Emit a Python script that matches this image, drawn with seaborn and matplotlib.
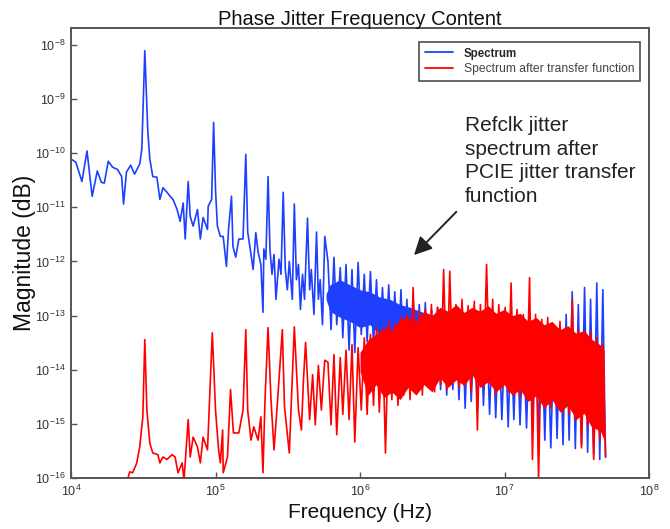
import numpy as np
import pandas as pd
import matplotlib
matplotlib.use("Agg")
import matplotlib.pyplot as plt
from matplotlib.ticker import LogLocator, NullLocator
import seaborn as sns

# ---------------- data ----------------
blue_low_freq = [1.0e4, 1.08e4, 1.19e4, 1.29e4, 1.40e4, 1.52e4, 1.62e4, 1.70e4, 1.81e4, 1.94e4,
                 2.10e4, 2.24e4, 2.31e4, 2.42e4, 2.59e4, 2.75e4, 2.99e4, 3.09e4, 3.24e4, 3.40e4,
                 3.51e4, 3.68e4, 3.93e4, 4.12e4, 4.33e4, 4.61e4, 4.85e4, 5.08e4, 5.42e4, 5.69e4,
                 5.97e4, 6.17e4, 6.47e4, 6.68e4, 7.0e4, 7.5e4, 7.85e4, 8.2e4, 8.8e4, 8.9e4,
                 9.4e4, 9.7e4, 1.0e5, 1.03e5, 1.08e5, 1.13e5, 1.19e5, 1.23e5, 1.29e5, 1.32e5,
                 1.38e5, 1.45e5, 1.55e5, 1.62e5, 1.67e5, 1.76e5, 1.82e5, 1.90e5, 1.97e5, 2.06e5,
                 2.13e5, 2.16e5, 2.23e5, 2.31e5, 2.38e5, 2.46e5, 2.54e5, 2.62e5, 2.75e5, 2.84e5,
                 2.94e5, 3.04e5, 3.14e5, 3.24e5, 3.40e5, 3.51e5, 3.63e5, 3.75e5, 3.87e5, 4.0e5,
                 4.13e5, 4.33e5, 4.48e5, 4.6e5, 4.8e5, 5.0e5, 5.15e5, 5.3e5, 5.5e5, 5.7e5]
blue_low_mag = [7.8e-11, 6.8e-11, 3.0e-11, 1.1e-10, 1.6e-11, 4.7e-11, 2.9e-11, 2.8e-11, 7.1e-11, 5.5e-11,
                5.0e-11, 3.7e-11, 1.15e-11, 4.5e-11, 6.0e-11, 4.1e-11, 6.3e-11, 1.2e-10, 7.8e-9, 2.5e-10,
                7.8e-11, 3.7e-11, 3.6e-11, 1.4e-11, 2.3e-11, 1.9e-11, 1.6e-11, 1.4e-11, 9.1e-12, 5.5e-12,
                1.2e-11, 2.6e-12, 3.0e-11, 6.8e-12, 4.5e-12, 9.1e-12, 2.6e-12, 6.5e-12, 3.9e-12, 1.05e-11,
                1.4e-11, 3.7e-10, 2.1e-11, 4.5e-12, 2.9e-12, 2.9e-12, 8.1e-13, 3.9e-12, 1.6e-11, 1.9e-12,
                1.2e-12, 2.6e-12, 2.6e-12, 9.5e-11, 3.5e-12, 1.35e-12, 7.1e-13, 3.4e-12, 1.5e-12, 8.8e-13,
                1.15e-13, 1.7e-12, 1.1e-12, 3.7e-11, 1.7e-12, 5.8e-13, 1.35e-12, 2.0e-13, 1.1e-12, 5.8e-13,
                1.9e-11, 7.1e-13, 3.0e-13, 1.0e-12, 2.0e-13, 1.15e-11, 4.6e-13, 8.8e-13, 1.3e-13, 5.8e-13,
                2.0e-13, 6.3e-12, 3.0e-13, 7.1e-13, 1.05e-13, 3.5e-12, 2.0e-13, 4.6e-13, 6.8e-14, 2.9e-12]

red_low_freq = [2.42e4, 2.55e4, 2.67e4, 2.85e4, 2.99e4, 3.14e4, 3.24e4, 3.35e4, 3.51e4, 3.68e4,
                3.99e4, 4.12e4, 4.33e4, 4.61e4, 5.0e4, 5.25e4, 5.5e4, 5.88e4, 6.05e4, 6.47e4,
                6.68e4, 7.0e4, 7.5e4, 7.85e4, 8.2e4, 8.8e4, 9.1e4, 9.5e4, 1.0e5, 1.05e5,
                1.08e5, 1.12e5, 1.13e5, 1.21e5, 1.27e5, 1.33e5, 1.45e5, 1.55e5, 1.62e5, 1.67e5,
                1.76e5, 1.84e5, 1.97e5, 2.06e5, 2.13e5, 2.2e5, 2.31e5, 2.42e5, 2.54e5, 2.7e5,
                2.9e5, 3.0e5, 3.24e5, 3.35e5, 3.51e5, 3.75e5, 3.93e5, 4.06e5, 4.2e5, 4.48e5,
                4.7e5, 4.9e5, 5.15e5, 5.4e5, 5.7e5]
red_low_mag = [8e-17, 1.3e-16, 1.25e-16, 1.9e-16, 3.75e-16, 1.35e-15, 3.6e-14, 1.8e-15, 4.4e-16, 2.9e-16,
               2.7e-16, 1.9e-16, 2.45e-16, 2.2e-16, 2.7e-16, 2.45e-16, 1.25e-16, 1.9e-16, 9e-17, 1.2e-15,
               2.45e-16, 5.7e-16, 3.75e-16, 1.9e-16, 5.7e-16, 3.3e-16, 2.8e-15, 4.8e-14, 1.8e-15, 3.3e-16,
               1.9e-16, 7.7e-16, 1.25e-16, 2.45e-16, 4.3e-15, 6.8e-16, 6.8e-16, 1.8e-15, 5.5e-14, 1.8e-15,
               5.0e-16, 8.8e-16, 5.0e-16, 1.35e-15, 1.25e-16, 2.8e-15, 6.0e-14, 2.8e-15, 3.3e-16, 3.2e-15,
               5.5e-14, 2.1e-15, 2.9e-16, 2.8e-15, 6.2e-14, 1.8e-15, 7.7e-16, 6.5e-15, 3.2e-14, 1.2e-15,
               8.1e-15, 9.6e-16, 1.2e-14, 1.8e-15, 1.5e-14]

dense_freq = [6.0e5, 6.3e5, 6.6e5, 6.9e5, 7.3e5, 7.6e5, 8.0e5, 8.4e5, 8.8e5, 9.2e5,
              9.7e5, 1.02e6, 1.07e6, 1.12e6, 1.18e6, 1.24e6, 1.30e6, 1.36e6, 1.43e6, 1.50e6,
              1.58e6, 1.66e6, 1.74e6, 1.83e6, 1.92e6, 2.01e6, 2.11e6, 2.22e6, 2.33e6, 2.45e6,
              2.57e6, 2.70e6, 2.83e6, 2.97e6, 3.12e6, 3.28e6, 3.44e6, 3.61e6, 3.79e6, 3.98e6,
              4.18e6, 4.39e6, 4.61e6, 4.84e6, 5.08e6, 5.34e6, 5.60e6, 5.88e6, 6.18e6, 6.49e6,
              6.81e6, 7.15e6, 7.51e6, 7.88e6, 8.28e6, 8.69e6, 9.13e6, 9.58e6, 1.01e7, 1.06e7,
              1.11e7, 1.16e7, 1.22e7, 1.28e7, 1.35e7, 1.42e7, 1.49e7, 1.56e7, 1.64e7, 1.72e7,
              1.81e7, 1.90e7, 1.99e7, 2.09e7, 2.20e7, 2.31e7, 2.42e7, 2.54e7, 2.67e7, 2.80e7,
              2.94e7, 3.09e7, 3.24e7, 3.41e7, 3.58e7, 3.76e7, 3.94e7, 4.14e7, 4.35e7, 4.56e7,
              4.79e7, 5.0e7]
blue_dense_mag = [1.0e-12, 5.5e-14, 1.19e-12, 6.8e-14, 7.7e-13, 3.9e-14, 8.8e-13, 2.3e-14, 7.1e-13, 2.07e-14,
                  9.6e-13, 4.5e-14, 5.8e-13, 3.3e-14, 6.5e-13, 2.9e-14, 4.6e-13, 2.55e-14, 3.3e-13, 2.1e-14,
                  3.7e-13, 1.8e-14, 2.75e-13, 1.5e-14, 3.0e-13, 1.2e-14, 2.0e-13, 1.0e-14, 2.2e-13, 9.2e-15,
                  1.6e-13, 7.1e-15, 1.74e-13, 6.5e-15, 1.3e-13, 5.3e-15, 1.42e-13, 4.3e-15, 1.2e-13, 3.4e-15,
                  1.05e-13, 4.3e-15, 9.3e-14, 2.8e-15, 1.05e-13, 1.94e-15, 8.5e-14, 2.6e-15, 7.8e-14, 1.8e-15,
                  6.8e-14, 2.2e-15, 7.8e-14, 1.5e-15, 6.0e-14, 1.3e-15, 5.5e-14, 1.2e-15, 6.0e-14, 8.8e-16,
                  5.0e-14, 1.2e-15, 5.5e-14, 9.6e-16, 4.5e-14, 8.4e-16, 5.0e-14, 1.63e-15, 4.5e-14, 7.1e-16,
                  5.5e-14, 5.0e-16, 4.5e-14, 3.6e-16, 5.0e-14, 5.4e-16, 6.0e-14, 4.1e-16, 1.05e-13, 5.0e-16,
                  2.75e-13, 3.5e-16, 1.6e-13, 4.1e-16, 3.3e-13, 3.0e-16, 2.0e-13, 2.7e-16, 4.0e-13, 2.2e-16,
                  3.0e-13, 2.4e-16]
red_dense_mag = [1.38e-14, 9.6e-16, 1.9e-14, 6.3e-16, 1.67e-14, 1.5e-15, 2.3e-14, 1.2e-15, 2.9e-14, 4.6e-16,
                 2.55e-14, 1.8e-15, 3.9e-14, 1.5e-15, 4.5e-14, 2.2e-15, 6.0e-14, 1.65e-15, 5.5e-14, 2.9e-16,
                 7.8e-14, 2.8e-15, 6.8e-14, 2.2e-15, 9.3e-14, 3.4e-15, 1.05e-13, 2.8e-15, 3.3e-13, 3.9e-15,
                 1.2e-13, 3.4e-15, 1.3e-13, 4.7e-15, 1.6e-13, 3.9e-15, 1.42e-13, 5.3e-15, 7.1e-13, 4.3e-15,
                 6.6e-13, 6.0e-15, 1.6e-13, 4.7e-15, 2.0e-13, 6.5e-15, 1.53e-13, 3.9e-15, 1.84e-13, 7.7e-16,
                 1.6e-13, 5.3e-15, 8.8e-13, 6.0e-15, 2.0e-13, 3.4e-15, 1.6e-13, 4.7e-15, 1.42e-13, 3.9e-15,
                 4.0e-13, 3.4e-15, 1.3e-13, 3.05e-15, 1.05e-13, 2.8e-15, 5.0e-13, 2.2e-16, 1.05e-13, 9.7e-17,
                 8.5e-14, 2.6e-15, 9.3e-14, 1.96e-15, 6.8e-14, 2.2e-15, 7.8e-14, 1.65e-15, 6.0e-14, 1.5e-15,
                 2.0e-13, 1.2e-15, 5.5e-14, 3.6e-16, 4.5e-14, 9.6e-16, 5.0e-14, 2.2e-16, 3.9e-14, 5.0e-16,
                 2.9e-14, 2.5e-16]

# solid mass of each band, where the FFT bins merge (upper and lower edge)
red_core_freq = [1.0e6, 1.14e6, 1.29e6, 1.47e6, 1.66e6, 1.89e6, 2.15e6, 2.44e6, 2.77e6, 3.15e6,
                 3.58e6, 4.06e6, 4.62e6, 5.25e6, 5.96e6, 6.77e6, 7.69e6, 8.73e6, 9.93e6, 1.13e7,
                 1.28e7, 1.46e7, 1.65e7, 1.88e7, 2.13e7, 2.42e7, 2.75e7, 3.13e7, 3.55e7, 4.03e7,
                 4.58e7, 4.89e7]
red_core_hi = [2.1e-14, 3.6e-14, 4.5e-14, 6.0e-14, 5.5e-14, 8.5e-14, 9.3e-14, 7.8e-14, 1.2e-13, 1.0e-13,
               1.42e-13, 1.2e-13, 1.6e-13, 1.15e-13, 1.42e-13, 1.2e-13, 1.53e-13, 1.1e-13, 1.3e-13, 1.0e-13,
               1.1e-13, 7.8e-14, 9.3e-14, 6.8e-14, 7.8e-14, 5.5e-14, 6.5e-14, 4.7e-14, 5.3e-14, 3.6e-14,
               2.9e-14, 2.3e-14]
red_core_lo = [9.2e-15, 3.4e-15, 5.3e-15, 3.05e-15, 3.9e-15, 2.8e-15, 4.7e-15, 3.4e-15, 5.3e-15, 3.9e-15,
               7.1e-15, 4.7e-15, 6.5e-15, 5.1e-15, 8.1e-15, 4.7e-15, 6.0e-15, 3.9e-15, 5.3e-15, 3.4e-15,
               4.3e-15, 2.6e-15, 3.3e-15, 1.96e-15, 2.8e-15, 1.65e-15, 2.2e-15, 1.2e-15, 1.57e-15, 8.4e-16,
               7.7e-16, 5.0e-16]
blue_core_freq = [5.82e5, 6.2e5, 7.27e5, 8.53e5, 1.0e6, 1.17e6, 1.37e6, 1.61e6, 1.89e6, 2.22e6,
                  2.6e6, 3.05e6, 3.58e6]
blue_core_hi = [2.5e-13, 3.7e-13, 4.6e-13, 3.7e-13, 3.0e-13, 2.75e-13, 2.2e-13, 2.0e-13, 1.6e-13, 1.42e-13,
                1.2e-13, 1.05e-13, 9.3e-14]
blue_core_lo = [2.0e-13, 1.2e-13, 9.3e-14, 7.8e-14, 6.0e-14, 6.8e-14, 4.5e-14, 3.6e-14, 2.9e-14, 2.3e-14,
                2.1e-14, 1.67e-14, 1.38e-14]

series_labels = ["Spectrum", "Spectrum after transfer function"]
title_text = "Phase Jitter Frequency Content"
x_label = "Frequency (Hz)"
y_label = "Magnitude (dB)"
note_text = "Refclk jitter\nspectrum after\nPCIE jitter transfer\nfunction"

# ---------------- style ----------------
sns.set_theme(style="white")
plt.rcParams["font.family"] = ["Liberation Sans", "DejaVu Sans"]
plt.rcParams["mathtext.fontset"] = "custom"
plt.rcParams["mathtext.rm"] = "Liberation Sans"
plt.rcParams["mathtext.it"] = "Liberation Sans:italic"
plt.rcParams["mathtext.bf"] = "Liberation Sans:bold"

BLUE = "#1f3fff"
RED = "#ff0000"

blue_df = pd.DataFrame({"freq": blue_low_freq + dense_freq, "mag": blue_low_mag + blue_dense_mag})
red_df = pd.DataFrame({"freq": red_low_freq + dense_freq, "mag": red_low_mag + red_dense_mag})

fig = plt.figure(figsize=(6.7, 5.29), dpi=100)
ax = fig.add_axes([0.106, 0.0964, 0.8627, 0.8506])

sns.lineplot(data=blue_df, x="freq", y="mag", ax=ax, color=BLUE, lw=1.2,
             sort=False, estimator=None, label=series_labels[0], zorder=2)
ax.fill_between(blue_core_freq, blue_core_hi, blue_core_lo, color=BLUE, lw=0, zorder=2)
sns.lineplot(data=red_df, x="freq", y="mag", ax=ax, color=RED, lw=1.2,
             sort=False, estimator=None, label=series_labels[1], zorder=3)
ax.fill_between(red_core_freq, red_core_hi, red_core_lo, color=RED, lw=0, zorder=3)

ax.set_xscale("log")
ax.set_yscale("log")
ax.set_xlim(1e4, 1e8)
ax.set_ylim(1e-16, 2.05e-8)
ax.xaxis.set_major_locator(LogLocator(base=10, numticks=20))
ax.yaxis.set_major_locator(LogLocator(base=10, numticks=20))
ax.xaxis.set_minor_locator(NullLocator())
ax.yaxis.set_minor_locator(NullLocator())
ax.xaxis.get_offset_text().set_visible(False)
ax.yaxis.get_offset_text().set_visible(False)

for s in ax.spines.values():
    s.set_color("#555555")
    s.set_linewidth(1.4)
ax.tick_params(axis="both", direction="in", length=4, width=1, color="#555555",
               labelsize=9, labelcolor="#333333", pad=4, bottom=True, left=True)

ax.set_title(title_text, fontsize=14.5, pad=2, color="#111111")
ax.set_xlabel(x_label, fontsize=15, labelpad=3, color="#111111")
ax.set_ylabel(y_label, fontsize=16.5, labelpad=-1, color="#111111")

leg = ax.legend(loc="upper right", bbox_to_anchor=(0.985, 0.97), borderaxespad=0,
                fancybox=False, frameon=True, handlelength=2.3, borderpad=0.5,
                labelspacing=0.3, handletextpad=0.9, fontsize=8.7)
leg.get_frame().set_edgecolor("#222222")
leg.get_frame().set_linewidth(1.2)
texts = leg.get_texts()
texts[0].set_fontweight("bold")
texts[0].set_fontsize(8.3)
texts[1].set_color("#444444")
for h in leg.get_lines():
    h.set_linewidth(1.3)

ax.text(0.682, 0.805, note_text, transform=ax.transAxes, ha="left", va="top",
        fontsize=15, linespacing=1.32, color="#222222")
ax.annotate("", xy=(0.590, 0.491), xytext=(0.670, 0.596), xycoords="axes fraction",
            textcoords="axes fraction",
            arrowprops=dict(arrowstyle="-|>,head_length=0.9,head_width=0.45",
                            color="#222222", lw=1.4))

fig.savefig("out.png", dpi=100, facecolor="white")
